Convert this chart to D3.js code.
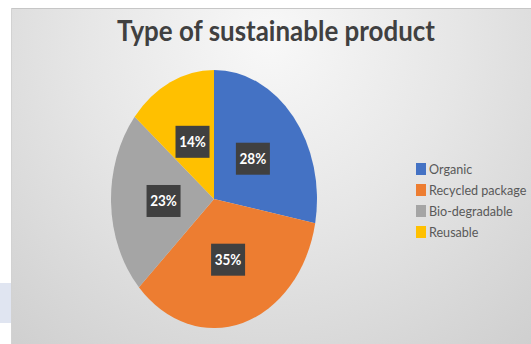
<!DOCTYPE html>
<html>
<head>
<meta charset="utf-8">
<script src="https://cdn.jsdelivr.net/npm/d3@7"></script>
<style>
  html, body { margin: 0; padding: 0; background: #ffffff; }
  svg { display: block; }
</style>
</head>
<body>
<script>
// Share of sustainable product types
const categories = ["Organic", "Recycled package", "Bio-degradable", "Reusable"];
const values = [28, 35, 23, 14];
const colors = ["#4472C4", "#ED7D31", "#A5A5A5", "#FFC000"];
const title = "Type of sustainable product";

const W = 531, H = 344;
const svg = d3.select("body").append("svg").attr("width", W).attr("height", H);

const defs = svg.append("defs");
const grad = defs.append("radialGradient")
  .attr("id", "bg").attr("gradientUnits", "userSpaceOnUse")
  .attr("cx", 270).attr("cy", 40).attr("r", 420);
grad.append("stop").attr("offset", "0").attr("stop-color", "#f8f8f8");
grad.append("stop").attr("offset", "0.45").attr("stop-color", "#e6e6e6");
grad.append("stop").attr("offset", "1").attr("stop-color", "#cdcdcd");

// chart panel
svg.append("rect").attr("x", 11).attr("y", 8).attr("width", W - 11).attr("height", H - 8)
  .attr("fill", "url(#bg)");
svg.append("line").attr("x1", 11).attr("x2", W).attr("y1", 8.5).attr("y2", 8.5)
  .attr("stroke", "#c6c6c6").attr("stroke-width", 1);
svg.append("line").attr("x1", 11.5).attr("x2", 11.5).attr("y1", 8).attr("y2", H)
  .attr("stroke", "#d2d2d2").attr("stroke-width", 1);
// small tinted patch in the left margin
svg.append("rect").attr("x", 0).attr("y", 283).attr("width", 11).attr("height", 40)
  .attr("fill", "#e0e5f1");

// title: tall, slightly condensed lettering
const titleG = svg.append("g").attr("transform", "translate(276,41)");
const t = titleG.append("text")
  .attr("text-anchor", "middle")
  .attr("font-family", "Lato, 'Open Sans', sans-serif")
  .attr("font-weight", "bold")
  .attr("fill", "#404040")
  .attr("font-size", 29)
  .text(title);
{
  const target = 318;
  const w = t.node().getComputedTextLength();
  titleG.attr("transform", `translate(276,41) scale(${target / w},1)`);
}

// pie (stretched vertically into an ellipse)
const cx = 214, cy = 199, rx = 103, ry = 129;
const pie = d3.pie().sort(null).value(d => d)(values);
const arc = d3.arc().innerRadius(0).outerRadius(rx);
const labelArc = d3.arc().innerRadius(0).outerRadius(rx * 0.98);

const g = svg.append("g").attr("transform", `translate(${cx},${cy})`);
g.append("g").attr("transform", `scale(1,${ry / rx})`)
  .selectAll("path").data(pie).join("path")
  .attr("d", arc)
  .attr("fill", (d, i) => colors[i]);

const labels = g.selectAll("g.lbl").data(pie).join("g")
  .attr("class", "lbl")
  .attr("transform", d => {
    const [x, y] = labelArc.centroid(d);
    return `translate(${x},${y * ry / rx})`;
  });
labels.append("rect")
  .attr("x", -17).attr("y", -16).attr("width", 34).attr("height", 32)
  .attr("fill", "#404040");
labels.append("text")
  .attr("text-anchor", "middle").attr("dy", "0.36em")
  .attr("transform", "scale(0.9,1)")
  .attr("font-family", "Lato, sans-serif").attr("font-weight", "bold")
  .attr("font-size", 15).attr("fill", "#ffffff")
  .text((d, i) => values[i] + "%");

// legend
const legend = svg.append("g").attr("transform", "translate(416,169)");
const rows = legend.selectAll("g").data(categories).join("g")
  .attr("transform", (d, i) => `translate(0,${i * 21})`);
rows.append("rect").attr("x", 0).attr("y", -6).attr("width", 10).attr("height", 12)
  .attr("fill", (d, i) => colors[i]);
rows.append("text")
  .attr("transform", "translate(13,0) scale(0.9,1)")
  .attr("dy", "0.35em")
  .attr("font-family", "Lato, sans-serif").attr("font-size", 14)
  .attr("fill", "#595959")
  .text(d => d);
</script>
</body>
</html>
